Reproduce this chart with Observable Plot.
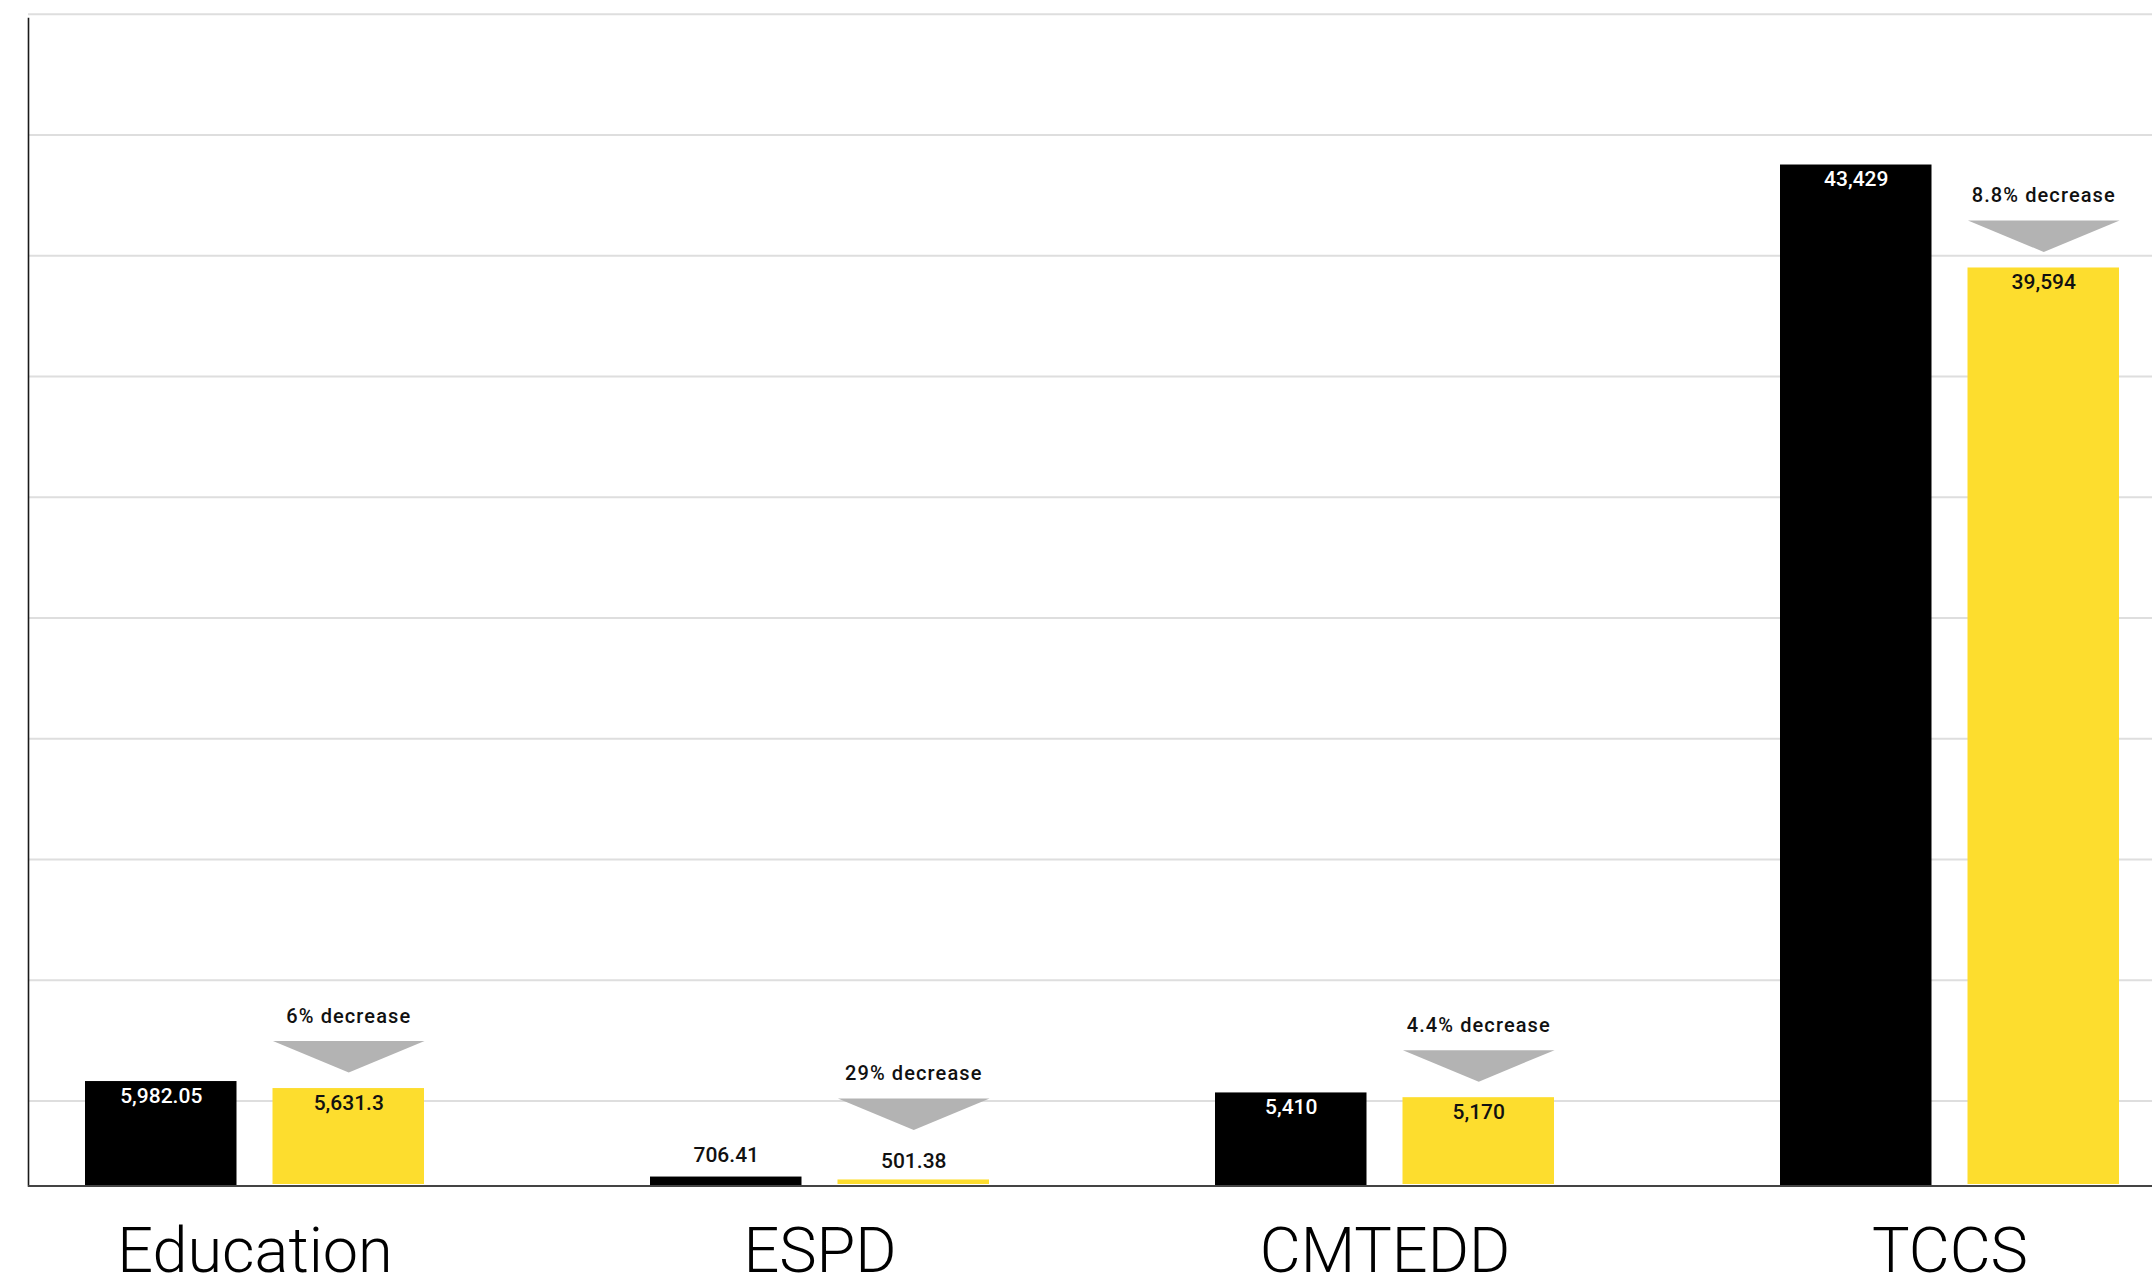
<!DOCTYPE html>
<html>
<head>
<meta charset="utf-8">
<script src="https://cdn.jsdelivr.net/npm/d3@7"></script>
<script src="https://cdn.jsdelivr.net/npm/@observablehq/plot@0.6"></script>
<style>
  html, body { margin: 0; padding: 0; background: #fff; overflow: hidden; }
  #chart { position: relative; width: 2152px; height: 1284px; }
  #chart svg { position: absolute; left: 0; top: 0; }
</style>
</head>
<body>
<div id="chart"></div>
<script>
// ---- data ----
const categories = ["Education", "ESPD", "CMTEDD", "TCCS"];
const series = ["Previous", "Current"];
const previousValues = [5982.05, 706.41, 5410, 43429];
const currentValues = [5631.3, 501.38, 5170, 39594];
const decreaseLabels = ["6% decrease", "29% decrease", "4.4% decrease", "8.8% decrease"];
const gridTicks = [0, 1, 2, 3, 4, 5, 6, 7, 8, 9];
const insideThreshold = 2000; // bars shorter than this carry their label above

// ---- table ----
const prevRows = categories.map((c, i) => ({category: c, series: series[0], value: previousValues[i]}));
const currRows = categories.map((c, i) => ({category: c, series: series[1], value: currentValues[i], label: decreaseLabels[i]}));

const W = 2152, H = 1284;
const BLACK = "#000000", YELLOW = "#fddd2e", GREY = "#b3b3b3";
const labelFont = "Roboto, Liberation Sans, Arial, sans-serif";
const labelWeight = 500;
const fmt = d3.format(",");
const half = 93.75;      // offset from group centre to each bar centre
const inset = 187.5;     // bar inset inside the group band
const triLen = 31.5, triR = 75.8;
const gapIn = 16, gapOut = 50;
const isInside = d => d.value >= insideThreshold;
const isOutside = d => d.value < insideThreshold;

// ---- background grid ----
const grid = Plot.plot({
  width: W, height: H,
  marginLeft: 28, marginRight: 0, marginTop: 13.7, marginBottom: 183.5,
  x: {axis: null},
  y: {domain: [0, 9], axis: null},
  marks: [
    Plot.ruleY(gridTicks, {stroke: "#dedede", strokeWidth: 2})
  ]
});

// ---- bars ----
const bars = Plot.plot({
  width: W, height: H,
  marginLeft: 28, marginRight: 0, marginTop: 18, marginBottom: 98.5,
  style: {background: "transparent", overflow: "visible"},
  x: {domain: categories, paddingInner: 0.4, paddingOuter: 0.0787, align: 0.636, label: null},
  y: {type: "pow", exponent: 1.15, domain: [0, 48800], axis: null},
  marks: [
    Plot.frame({anchor: "left", stroke: "#1a1a1a", strokeWidth: 1.6}),
    Plot.barY(prevRows, {x: "category", y: "value", fill: BLACK, insetRight: inset}),
    Plot.barY(currRows, {x: "category", y: "value", fill: YELLOW, insetLeft: inset, insetBottom: 1.5}),
    Plot.ruleY([0], {stroke: "#444", strokeWidth: 2}),
    // value labels
    Plot.text(prevRows, {filter: isInside, x: "category", y: "value", text: d => fmt(d.value), dx: -half, dy: 21,
      lineAnchor: "bottom", fill: "white", fontSize: 21, fontFamily: labelFont, fontWeight: labelWeight}),
    Plot.text(currRows, {filter: isInside, x: "category", y: "value", text: d => fmt(d.value), dx: half, dy: 21,
      lineAnchor: "bottom", fill: "#111", fontSize: 21, fontFamily: labelFont, fontWeight: labelWeight}),
    Plot.text(prevRows, {filter: isOutside, x: "category", y: "value", text: d => fmt(d.value), dx: -half, dy: -15,
      lineAnchor: "bottom", fill: "#111", fontSize: 21, fontFamily: labelFont, fontWeight: labelWeight}),
    Plot.text(currRows, {filter: isOutside, x: "category", y: "value", text: d => fmt(d.value), dx: half, dy: -12,
      lineAnchor: "bottom", fill: "#111", fontSize: 21, fontFamily: labelFont, fontWeight: labelWeight}),
    // decrease arrows
    Plot.vector(currRows, {filter: isInside, x: "category", y: "value", dx: half, dy: -(gapIn + triLen),
      length: triLen, r: triR, rotate: 180, shape: "spike", anchor: "start", fill: GREY, stroke: "none"}),
    Plot.vector(currRows, {filter: isOutside, x: "category", y: "value", dx: half, dy: -(gapOut + triLen),
      length: triLen, r: triR, rotate: 180, shape: "spike", anchor: "start", fill: GREY, stroke: "none"}),
    Plot.text(currRows, {filter: isInside, x: "category", y: "value", text: "label", dx: half, dy: -(gapIn + triLen + 18.5),
      lineAnchor: "bottom", fill: "#111", fontSize: 20, fontFamily: labelFont, fontWeight: labelWeight}),
    Plot.text(currRows, {filter: isOutside, x: "category", y: "value", text: "label", dx: half, dy: -(gapOut + triLen + 18.5),
      lineAnchor: "bottom", fill: "#111", fontSize: 20, fontFamily: labelFont, fontWeight: labelWeight}),
    // category axis
    Plot.axisX({tickSize: 0, tickPadding: 41, fontSize: 63, fontFamily: "Roboto, sans-serif", fontWeight: 300, fill: "#000", label: null})
  ]
});

// slight tracking on the "decrease" annotations
d3.select(bars).selectAll("text")
  .filter(function() { return decreaseLabels.includes(this.textContent); })
  .attr("letter-spacing", "1.1px");

const chart = document.getElementById("chart");
chart.appendChild(grid);
chart.appendChild(bars);
</script>
</body>
</html>
